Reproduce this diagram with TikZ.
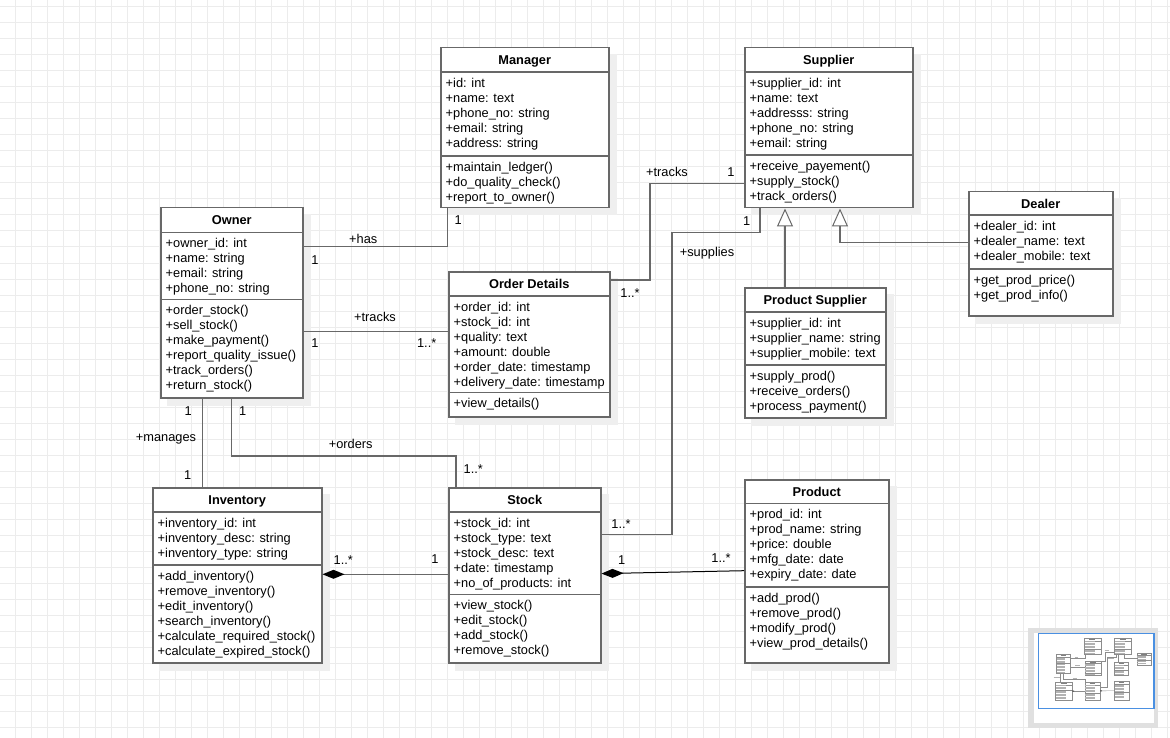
\documentclass[tikz,border=0pt]{standalone}
\usepackage{fontspec}
\setmainfont{Liberation Sans}
\usetikzlibrary{arrows.meta}

\definecolor{edge}{RGB}{104,104,104}
\definecolor{gridline}{RGB}{236,236,236}
\definecolor{dropgray}{RGB}{239,239,239}
\definecolor{viewblue}{RGB}{74,144,226}

\pgfdeclarelayer{grid}
\pgfdeclarelayer{shadow}
\pgfsetlayers{grid,shadow,main}

\newcommand\umlfont{\fontsize{12.8}{15}\selectfont}

\tikzset{
  classbox/.style={draw=edge, line width=1.5pt, fill=white, inner sep=0pt, anchor=north west},
  divider/.style={draw=edge, line width=1.5pt},
  titletext/.style={font=\umlfont\bfseries, inner sep=0pt, anchor=base},
  sectext/.style={font=\umlfont, align=left, inner sep=0pt, anchor=north west},
  lbl/.style={font=\umlfont, inner sep=0pt, anchor=base},
  assoc/.style={draw=edge, line width=1.5pt},
  composite/.style={assoc, -{Diamond[length=22pt,width=9pt,color=black,fill=black]}},
  inherit/.style={assoc, -{Triangle[length=18pt,width=16pt,color=edge,fill=white,line width=1pt]}},
  minibox/.style={draw=black!45, line width=0.35pt},
  ministub/.style={draw=black!30, line width=0.9pt},
  minititle/.style={draw=black!50, line width=0.9pt},
  minilink/.style={draw=black!45, line width=0.35pt},
}

% #1 name, #2 top-left corner, #3 width, #4 height,
% #5 header divider offset, #6 operations divider offset,
% #7 class name, #8 attributes, #9 operations
\newcommand\umlclass[9]{%
  \node[classbox, minimum width=#3pt, minimum height=#4pt] (#1) at (#2) {};
  \begin{pgfonlayer}{shadow}
    \fill[dropgray] ([shift={(7pt,-7pt)}]#1.south west) rectangle ([shift={(7pt,-7pt)}]#1.north east);
  \end{pgfonlayer}
  \draw[divider] ([yshift=-#5pt]#1.north west) -- ([yshift=-#5pt]#1.north east);
  \draw[divider] ([yshift=-#6pt]#1.north west) -- ([yshift=-#6pt]#1.north east);
  \node[titletext] (#1-title) at ([yshift=-17.2pt]#1.north) {#7};
  \node[sectext] (#1-attrs) at ([xshift=5.5pt,yshift=-#5pt-4.5pt]#1.north west) {\strut#8};
  \node[sectext] (#1-ops) at ([xshift=5.5pt,yshift=-#6pt-4.5pt]#1.north west) {\strut#9};
}

% overview thumbnail of one class: x, y, w, h, header offset, ops offset, #attrs, #ops
\newcommand\minicls[8]{%
  \draw[minibox] (#1,#2) rectangle ++(#3,#4);
  \draw[minibox] (#1,#2+#5) -- ++(#3,0);
  \draw[minibox] (#1,#2+#6) -- ++(#3,0);
  \draw[minititle] (#1+0.32*#3,#2+12.5) -- ++(0.36*#3,0);
  \foreach \k in {1,...,#7} \draw[ministub] (#1+6,#2+#5+15*\k-4) -- ++(0.62*#3,0);
  \foreach \k in {1,...,#8} \draw[ministub] (#1+6,#2+#6+15*\k-4) -- ++(0.62*#3,0);
}

\begin{document}
\begin{tikzpicture}[x=1pt,y=-1pt]
\useasboundingbox (0,0) rectangle (1170,738);

% canvas grid
\begin{pgfonlayer}{grid}
  \fill[white] (0,0) rectangle (1170,738);
  \foreach \x in {15,31,...,1167} \draw[gridline, line width=1pt] (\x,0) -- (\x,738);
  \foreach \y in {7,23,...,727} \draw[gridline, line width=1pt] (0,\y) -- (1170,\y);
\end{pgfonlayer}

% classes
\umlclass{manager}{440,47}{168}{160}{25}{109}{Manager}
  {+id: int\\+name: text\\+phone\_no: string\\+email: string\\+address: string}
  {+maintain\_ledger()\\+do\_quality\_check()\\+report\_to\_owner()}
\umlclass{supplier}{744,47}{168}{160}{25}{108}{Supplier}
  {+supplier\_id: int\\+name: text\\+addresss: string\\+phone\_no: string\\+email: string}
  {+receive\_payement()\\+supply\_stock()\\+track\_orders()}
\umlclass{owner}{160,207}{142}{190}{25.5}{92.5}{Owner}
  {+owner\_id: int\\+name: string\\+email: string\\+phone\_no: string}
  {+order\_stock()\\+sell\_stock()\\+make\_payment()\\+report\_quality\_issue()\\+track\_orders()\\+return\_stock()}
\umlclass{od}{448,271}{161}{145}{25}{121.7}{Order Details}
  {+order\_id: int\\+stock\_id: int\\+quality: text\\+amount: double\\+order\_date: timestamp\\+delivery\_date: timestamp}
  {+view\_details()}
\umlclass{dealer}{968,191}{144}{124}{24}{78}{Dealer}
  {+dealer\_id: int\\+dealer\_name: text\\+dealer\_mobile: text}
  {+get\_prod\_price()\\+get\_prod\_info()}
\umlclass{ps}{744,287}{141}{130}{25}{78}{Product Supplier}
  {+supplier\_id: int\\+supplier\_name: string\\+supplier\_mobile: text}
  {+supply\_prod()\\+receive\_orders()\\+process\_payment()}
\umlclass{inventory}{152,487}{169}{175}{25}{78}{Inventory}
  {+inventory\_id: int\\+inventory\_desc: string\\+inventory\_type: string}
  {+add\_inventory()\\+remove\_inventory()\\+edit\_inventory()\\+search\_inventory()\\+calculate\_required\_stock()\\+calculate\_expired\_stock()}
\umlclass{stock}{448,487}{152}{175}{25}{107.5}{Stock}
  {+stock\_id: int\\+stock\_type: text\\+stock\_desc: text\\+date: timestamp\\+no\_of\_products: int}
  {+view\_stock()\\+edit\_stock()\\+add\_stock()\\+remove\_stock()}
\umlclass{product}{744,479}{144}{183}{24.5}{108}{Product}
  {+prod\_id: int\\+prod\_name: string\\+price: double\\+mfg\_date: date\\+expiry\_date: date}
  {+add\_prod()\\+remove\_prod()\\+modify\_prod()\\+view\_prod\_details()}

% associations
\draw[assoc] ([yshift=-39.7pt]owner.north east) -| ([xshift=7.7pt]manager.south west);
\draw[assoc] ([yshift=-124.7pt]owner.north east) -- ([yshift=-60.7pt]od.north west);
\draw[assoc] ([xshift=42.7pt]owner.south west) -- ([xshift=50.7pt]inventory.north west);
\draw[assoc] ([xshift=71.7pt]owner.south west) -- ++(0,57.3) -| ([xshift=8pt]stock.north west);
\draw[assoc] ([yshift=-9pt]od.north east) -- ++(39.3,0) |- ([yshift=-136.3pt]supplier.north west);
\draw[assoc] ([xshift=16pt]supplier.south west) -- ++(0,24) -- ++(-88,0) |- ([yshift=-47.6pt]stock.north east);

% generalisations
\draw[inherit] ([xshift=41pt]ps.north west) -- ([xshift=41pt]supplier.south west);
\draw[inherit] ([yshift=-51.3pt]dealer.north west) -| ([xshift=96pt]supplier.south west);

% compositions
\draw[composite] ([yshift=-87.3pt]stock.north west) -- ([yshift=-87.3pt]inventory.north east);
\draw[composite, draw=black, line width=1pt] ([yshift=-91.7pt]product.north west) -- ([yshift=-86.6pt]stock.north east);

% role names and multiplicities
\node[lbl] (l-has) at (363.3,243.6) {+has};
\node[lbl] (m-has-o) at (315,264.6) {1};
\node[lbl] (m-has-m) at (458.3,224.6) {1};
\node[lbl] (l-tracks-o) at (375,321.3) {+tracks};
\node[lbl] (m-tracks-o) at (315,347.3) {1};
\node[lbl] (m-tracks-d) at (426.7,347.3) {1..*};
\node[lbl] (l-manages) at (166,441.6) {+manages};
\node[lbl] (m-man-o) at (188.3,415.6) {1};
\node[lbl] (m-man-i) at (187.7,479.6) {1};
\node[lbl] (m-ord-o) at (242.7,415.6) {1};
\node[lbl] (l-orders) at (350.7,448.9) {+orders};
\node[lbl] (m-ord-s) at (473.3,473.6) {1..*};
\node[lbl] (l-tracks-s) at (667,176.3) {+tracks};
\node[lbl] (m-tracks-s) at (731,176.3) {1};
\node[lbl] (m-tracks-od) at (630,297.6) {1..*};
\node[lbl] (m-sup-s) at (746.7,225.3) {1};
\node[lbl] (l-supplies) at (707,256.3) {+supplies};
\node[lbl] (m-sup-st) at (621,528.6) {1..*};
\node[lbl] (m-inv-i) at (343.3,564.6) {1..*};
\node[lbl] (m-inv-s) at (435,563.9) {1};
\node[lbl] (m-prod-s) at (621.7,564.6) {1};
\node[lbl] (m-prod-p) at (721,562.9) {1..*};

% overview panel
\fill[black!12] (1028,628) rectangle (1158,728);
\fill[white] (1034,633) rectangle (1154,723);
\begin{scope}[shift={(1040,633.6)}, scale=0.1]
  \minicls{440}{47}{168}{160}{25}{109}{5}{3}
  \minicls{744}{47}{168}{160}{25}{108}{5}{3}
  \minicls{160}{207}{142}{190}{25.5}{92.5}{4}{6}
  \minicls{448}{271}{161}{145}{25}{121.7}{6}{1}
  \minicls{968}{191}{144}{124}{24}{78}{3}{2}
  \minicls{744}{287}{141}{130}{25}{78}{3}{3}
  \minicls{152}{487}{169}{175}{25}{78}{3}{6}
  \minicls{448}{487}{152}{175}{25}{107.5}{5}{4}
  \minicls{744}{479}{144}{183}{24.5}{108}{5}{4}
  \draw[minilink] (302,246.7) -| (447.7,207);
  \draw[minilink] (302,331.7) -- (448,331.7);
  \draw[minilink] (202.7,397) -- (202.7,487);
  \draw[minilink] (231.7,397) |- (456,454.3) -- (456,487);
  \draw[minilink] (609,280) -| (648.3,183.3) -- (744,183.3);
  \draw[minilink] (760,207) |- (672,231) |- (600,534.3);
  \draw[minilink] (785,287) -- (785,207);
  \draw[minilink] (968,242.3) -| (840,207);
  \draw[minilink] (448,574) -- (321,574);
  \draw[minilink] (744,570.7) -- (600,573.3);
  \fill[black] (321,574) -- ++(11,-4.5) -- ++(11,4.5) -- ++(-11,4.5) -- cycle;
  \fill[black] (600,573.3) -- ++(11,-4.5) -- ++(11,4.5) -- ++(-11,4.5) -- cycle;
  \foreach \px/\py/\len in {363/239/28, 375/317/42, 167/437/60, 351/444/44, 667/172/42, 707/252/56}
    \draw[ministub] (\px-\len/2,\py) -- ++(\len,0);
\end{scope}
\draw[viewblue, line width=1.3pt] (1038.3,633.3) rectangle (1154,708.3);
\end{tikzpicture}
\end{document}
